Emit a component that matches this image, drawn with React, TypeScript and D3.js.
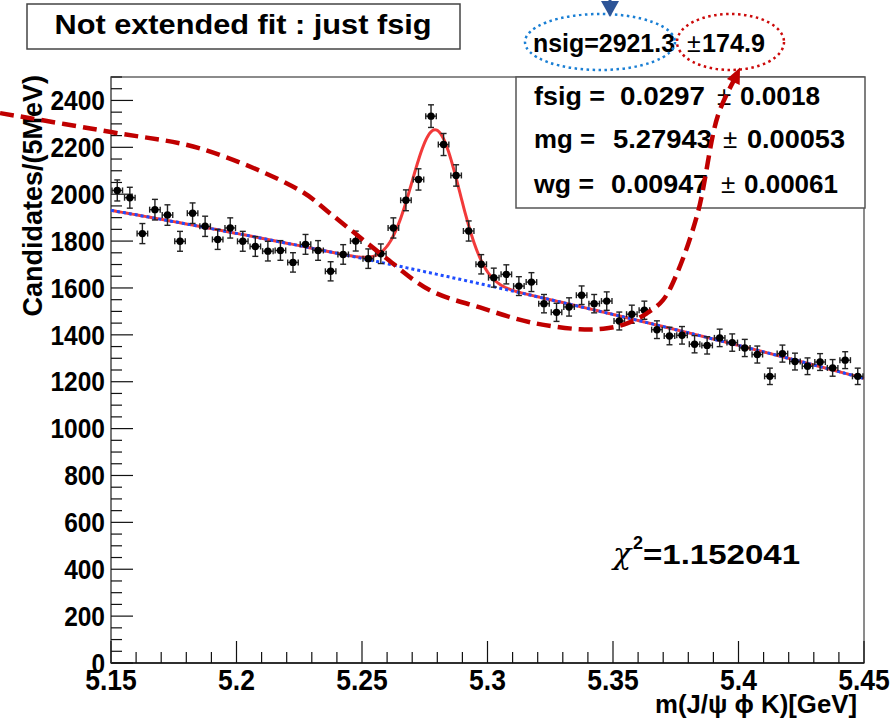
import React from 'react';
import * as d3 from 'd3';

// ---------- data ----------
const binLow = 5.15;
const binWidth = 0.005;
const counts = [
  2016, 1985, 1832, 1934, 1911, 1799, 1919, 1863, 1807, 1856,
  1799, 1777, 1757, 1760, 1709, 1786, 1760, 1671, 1743, 1800,
  1725, 1746, 1856, 1974, 2063, 2333, 2212, 2080, 1843, 1701,
  1644, 1658, 1608, 1625, 1533, 1496, 1519, 1569, 1533, 1544,
  1459, 1488, 1505, 1422, 1395, 1398, 1360, 1355, 1387, 1367,
  1344, 1316, 1223, 1320, 1286, 1266, 1284, 1259, 1292, 1223,
];
const xTickValues = [5.15, 5.2, 5.25, 5.3, 5.35, 5.4, 5.45];
const xTickLabels = ['5.15', '5.2', '5.25', '5.3', '5.35', '5.4', '5.45'];
const yTickValues = [0, 200, 400, 600, 800, 1000, 1200, 1400, 1600, 1800, 2000, 2200, 2400];
const yTickLabels = ['0', '200', '400', '600', '800', '1000', '1200', '1400', '1600', '1800', '2000', '2200', '2400'];

// fit results
const bgCoef = [1931, -1879, -1702]; // quadratic in (m - 5.15)
const nsig = 2921.3;
const mg = 5.27943;
const wg = 0.00947;

// annotation arrow path (data coordinates)
const arrowMass = [5.1058, 5.15, 5.1855, 5.2253, 5.2373, 5.2572, 5.2771, 5.297, 5.3169, 5.3368, 5.3476, 5.3556, 5.3635, 5.3699, 5.3755, 5.3838, 5.3918, 5.3986];
const arrowCnt = [2346, 2265, 2195, 2016, 1918, 1748, 1590, 1517, 1454, 1424, 1428, 1449, 1492, 1548, 1662, 1922, 2336, 2494];

const statLabels = ['fsig =', 'mg =', 'wg ='];
const statValues = ['0.0297', '5.27943', '0.00947'];
const statErrors = ['0.0018', '0.00053', '0.00061'];

const FONT = "'Liberation Sans', Arial, Helvetica, sans-serif";

// width of a numeric label in em (Arial metrics)
const numEm = (s: string) => s.split('').reduce((a, c) => a + (c === '.' ? 0.278 : 0.556), 0);

export default function App() {
  const W = 894, H = 721;
  const L = 111, R = 864, T = 77, B = 663;
  const x = d3.scaleLinear().domain([5.15, 5.45]).range([L, R]);
  const y = d3.scaleLinear().domain([0, 2500]).range([B, T]);

  const bg = (m: number) => {
    const t = m - 5.15;
    return bgCoef[0] + bgCoef[1] * t + bgCoef[2] * t * t;
  };
  const amp = (nsig * binWidth) / (Math.sqrt(2 * Math.PI) * wg);
  const total = (m: number) => bg(m) + amp * Math.exp(-0.5 * ((m - mg) / wg) ** 2);

  const grid = d3.range(0, 601).map((i) => 5.15 + (0.3 * i) / 600);
  const line = d3.line<number>().x((m) => x(m)).y((m) => y(total(m)));
  const bgLine = d3.line<number>().x((m) => x(m)).y((m) => y(bg(m)));

  const arrowPts = arrowMass.map((m, i) => [x(m), y(arrowCnt[i])] as [number, number]);
  const arrowPath = d3.line().curve(d3.curveCatmullRom.alpha(0.5))(arrowPts) || '';
  const last = arrowPts[arrowPts.length - 1];
  const prev = arrowPts[arrowPts.length - 2];
  const ang = Math.atan2(last[1] - prev[1], last[0] - prev[0]);
  const tip: [number, number] = [last[0] + 12 * Math.cos(ang), last[1] + 12 * Math.sin(ang)];
  const headLen = 16, headW = 7;
  const hb: [number, number] = [tip[0] - headLen * Math.cos(ang), tip[1] - headLen * Math.sin(ang)];
  const head = [
    tip,
    [hb[0] + headW * Math.sin(ang), hb[1] - headW * Math.cos(ang)],
    [hb[0] - headW * Math.sin(ang), hb[1] + headW * Math.cos(ang)],
  ];

  const yMinor = d3.range(0, 2501, 50).filter((v) => v % 200 !== 0);
  const xMinor = d3.range(0, 31).map((i) => 5.15 + i * 0.01).filter((_, i) => i % 5 !== 0);

  const centers = counts.map((_, i) => binLow + (i + 0.5) * binWidth);

  const statLabelW = [71, 61, 60];
  const statValX = [620, 613, 611];
  const statValW = [85, 99, 97];
  const statPmX = [717, 723, 721];
  const statErrX = [740, 747, 744];
  const statErrW = [80, 98, 94];
  const statY = [105, 148, 193];

  return (
    <svg width={W} height={H} style={{ position: 'absolute', left: 0, top: 0, background: '#fff' }} fontFamily={FONT}>
      <rect x={0} y={0} width={W} height={H} fill="#fff" />
      {/* frame */}
      <rect x={L} y={T} width={R - L} height={B - T} fill="none" stroke="#666" strokeWidth={1.5} />
      <line x1={L} x2={R} y1={B} y2={B} stroke="#111" strokeWidth={1.5} />
      <line x1={L} x2={L} y1={T} y2={B} stroke="#777" strokeWidth={2} />

      {/* y ticks */}
      {yTickValues.map((v, i) => (
        <g key={'y' + v}>
          <line x1={L} x2={L + 22} y1={y(v)} y2={y(v)} stroke="#111" strokeWidth={1.2} />
          <text x={105} y={y(v)} dy="0.36em" textAnchor="end" fontSize={27} fontWeight="bold"
            textLength={numEm(yTickLabels[i]) * 24.5} lengthAdjust="spacingAndGlyphs">{yTickLabels[i]}</text>
        </g>
      ))}
      {yMinor.map((v) => (
        <line key={'ym' + v} x1={L} x2={L + 11} y1={y(v)} y2={y(v)} stroke="#111" strokeWidth={1.2} />
      ))}
      {/* x ticks */}
      {xTickValues.map((v, i) => (
        <g key={'x' + v}>
          <line x1={x(v)} x2={x(v)} y1={B} y2={B - 22} stroke="#111" strokeWidth={1.2} />
          <text x={x(v)} y={690} textAnchor="middle" fontSize={30} fontWeight="bold"
            textLength={numEm(xTickLabels[i]) * 26.5} lengthAdjust="spacingAndGlyphs">{xTickLabels[i]}</text>
        </g>
      ))}
      {xMinor.map((v) => (
        <line key={'xm' + v} x1={x(v)} x2={x(v)} y1={B} y2={B - 11} stroke="#111" strokeWidth={1.2} />
      ))}

      {/* axis titles */}
      <text transform="translate(42,75) rotate(-90)" textAnchor="end" fontSize={27} fontWeight="bold">Candidates/(5MeV)</text>
      <text x={857} y={713} textAnchor="end" fontSize={25} fontWeight="bold" textLength={202} lengthAdjust="spacingAndGlyphs">m(J/ψ  ϕ K)[GeV]</text>

      {/* fit curves */}
      <path d={line(grid) || ''} fill="none" stroke="#f23a3a" strokeWidth={3} />
      <path d={bgLine(grid) || ''} fill="none" stroke="#1f4dff" strokeWidth={3} strokeDasharray="3,3" />

      {/* data points */}
      {counts.map((c, i) => {
        const cx = x(centers[i]);
        const cy = y(c);
        const e = Math.sqrt(c);
        const x0 = x(centers[i] - binWidth * 0.42);
        const x1 = x(centers[i] + binWidth * 0.42);
        const y0 = y(c + e);
        const y1 = y(c - e);
        return (
          <g key={'p' + i} stroke="#222" strokeWidth={1.4}>
            <line x1={x0} x2={x1} y1={cy} y2={cy} />
            <line x1={x0} x2={x0} y1={cy - 3} y2={cy + 3} />
            <line x1={x1} x2={x1} y1={cy - 3} y2={cy + 3} />
            <line x1={cx} x2={cx} y1={y0} y2={y1} />
            <line x1={cx - 3} x2={cx + 3} y1={y0} y2={y0} />
            <line x1={cx - 3} x2={cx + 3} y1={y1} y2={y1} />
            <circle cx={cx} cy={cy} r={3.7} fill="#000" stroke="none" />
          </g>
        );
      })}

      {/* chi2 */}
      <text x={613} y={564} fontSize={30} fontFamily="'DejaVu Serif', serif" fontStyle="italic">χ</text>
      <text x={633} y={549} fontSize={18} fontWeight="bold">2</text>
      <text x={643} y={564} fontSize={28} fontWeight="bold" textLength={157} lengthAdjust="spacingAndGlyphs">=1.152041</text>

      {/* stats box */}
      <rect x={516} y={77} width={349} height={131} fill="#fff" stroke="#555" strokeWidth={1.5} />
      {statLabels.map((s, i) => (
        <g key={'s' + i} fontSize={26}>
          <text x={534} y={statY[i]} fontWeight="bold" textLength={statLabelW[i]} lengthAdjust="spacingAndGlyphs">{s}</text>
          <text x={statValX[i]} y={statY[i]} fontWeight="bold" textLength={statValW[i]} lengthAdjust="spacingAndGlyphs">{statValues[i]}</text>
          <text x={statPmX[i]} y={statY[i]}>±</text>
          <text x={statErrX[i]} y={statY[i]} fontWeight="bold" textLength={statErrW[i]} lengthAdjust="spacingAndGlyphs">{statErrors[i]}</text>
        </g>
      ))}

      {/* title */}
      <rect x={27} y={4} width={433} height={45} fill="#fff" stroke="#444" strokeWidth={1.5} />
      <text x={243} y={34} textAnchor="middle" fontSize={28} fontWeight="bold" textLength={377} lengthAdjust="spacingAndGlyphs">Not extended fit : just fsig</text>

      {/* nsig annotation */}
      <text x={533} y={52} fontSize={26} fontWeight="bold" textLength={142} lengthAdjust="spacingAndGlyphs">nsig=2921.3</text>
      <text x={687} y={52} fontSize={25}>±</text>
      <text x={702} y={52} fontSize={26} fontWeight="bold" textLength={63} lengthAdjust="spacingAndGlyphs">174.9</text>
      <ellipse cx={600} cy={42} rx={75} ry={28} fill="none" stroke="#1a7fd4" strokeWidth={2.5} strokeDasharray="2.5,3.5" />
      <ellipse cx={730.5} cy={42} rx={53.5} ry={28} fill="none" stroke="#cc0a0a" strokeWidth={2.5} strokeDasharray="2.5,3.5" />
      {/* blue arrow */}
      <line x1={610} x2={610} y1={-5} y2={8} stroke="#2e5597" strokeWidth={3} />
      <polygon points="601,1 619,1 610,17" fill="#2e5597" />

      {/* red dashed arrow */}
      <path d={arrowPath} fill="none" stroke="#c00000" strokeWidth={4.5} strokeDasharray="14,7" />
      <polygon points={head.map((p) => p.join(',')).join(' ')} fill="#c00000" />
    </svg>
  );
}
